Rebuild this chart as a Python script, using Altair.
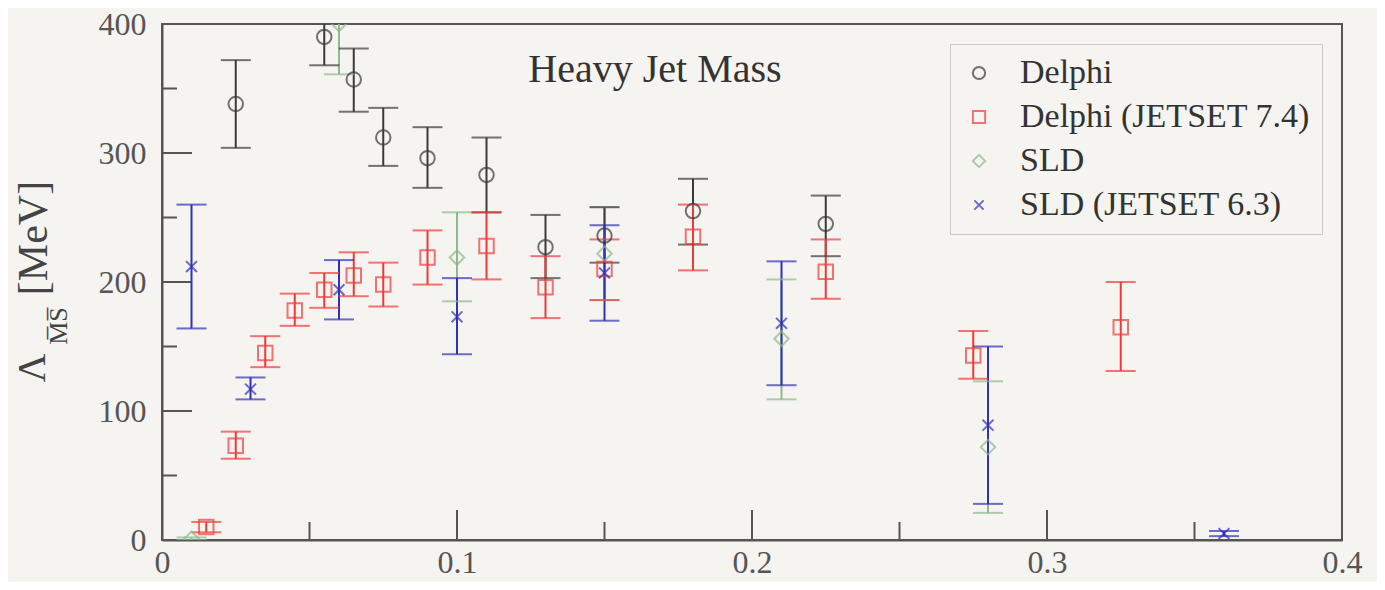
import altair as alt
import pandas as pd

# ---------------- data ----------------
series_names = ["Delphi", "Delphi (JETSET 7.4)", "SLD", "SLD (JETSET 6.3)"]
series_colors = ["#3a3a3a", "#f03a3a", "#8cba8c", "#3030b8"]
series_shapes = ["circle", "square", "diamond", "M-0.75,-0.75L0.75,0.75M0.75,-0.75L-0.75,0.75"]

delphi_x = [0.025, 0.055, 0.065, 0.075, 0.09, 0.11, 0.13, 0.15, 0.18, 0.225]
delphi_y = [338, 390, 357, 312, 296, 283, 227, 236, 255, 245]
delphi_lo = [304, 368, 332, 290, 273, 254, 203, 215, 229, 220]
delphi_hi = [372, 414, 381, 335, 320, 312, 252, 258, 280, 267]

dj74_x = [0.015, 0.025, 0.035, 0.045, 0.055, 0.065, 0.075, 0.09, 0.11, 0.13, 0.15, 0.18, 0.225, 0.275, 0.325]
dj74_y = [10, 73, 145, 178, 194, 205, 198, 219, 228, 196, 210, 235, 208, 143, 165]
dj74_lo = [6, 63, 134, 166, 180, 189, 181, 198, 202, 172, 186, 209, 187, 125, 131]
dj74_hi = [14, 84, 158, 191, 207, 223, 215, 240, 254, 220, 233, 260, 233, 162, 200]

sld_x = [0.01, 0.06, 0.10, 0.15, 0.21, 0.28]
sld_y = [1, 400, 219, 222, 156, 72]
sld_lo = [0, 361, 185, 186, 109, 21]
sld_hi = [2, 438, 254, 258, 202, 123]

sj63_x = [0.01, 0.03, 0.06, 0.10, 0.15, 0.21, 0.28, 0.36]
sj63_y = [212, 117, 194, 173, 207, 168, 89, 5]
sj63_lo = [164, 109, 171, 144, 170, 120, 28, 3]
sj63_hi = [260, 126, 217, 203, 244, 216, 150, 7]

x_tick_labels = [0, 0.1, 0.2, 0.3, 0.4]
y_tick_labels = [0, 100, 200, 300, 400]
x_major_inner = [0.1, 0.2, 0.3]
x_minor_inner = [0.05, 0.15, 0.25, 0.35]
y_major_inner = [100, 200, 300]
y_minor_inner = [50, 150, 250, 350]

# ---------------- build table ----------------
color_of = dict(zip(series_names, series_colors))
rows = []
for name, xs, ys, los, his in [
    ("SLD", sld_x, sld_y, sld_lo, sld_hi),
    ("Delphi", delphi_x, delphi_y, delphi_lo, delphi_hi),
    ("Delphi (JETSET 7.4)", dj74_x, dj74_y, dj74_lo, dj74_hi),
    ("SLD (JETSET 6.3)", sj63_x, sj63_y, sj63_lo, sj63_hi),
]:
    for x, y, lo, hi in zip(xs, ys, los, his):
        rows.append({"series": name, "col": color_of[name], "x": x, "y": y, "lo": lo, "hi": hi})
df = pd.DataFrame(rows)

W, H = 1180, 516
FONT = "Liberation Serif"
BG = "#f6f4f0"
AX = "#555555"

xscale = alt.Scale(domain=[0, 0.4], nice=False, zero=False)
yscale = alt.Scale(domain=[0, 400], nice=False)
cscale = alt.Scale(domain=series_names, range=series_colors)
sscale = alt.Scale(domain=series_names, range=series_shapes)

xenc = alt.X("x:Q", scale=xscale, axis=alt.Axis(
    values=x_tick_labels, title=None, ticks=False, grid=False,
    labelExpr="datum.value == 0 ? '0' : format(datum.value, '.1f')",
    labelFont=FONT, labelFontSize=32, labelColor=AX, labelPadding=7,
    labelFlush=False, domainColor=AX, domainWidth=2))
yenc = alt.Y("y:Q", scale=yscale, axis=alt.Axis(
    values=y_tick_labels, title=None, ticks=False, grid=False,
    labelFont=FONT, labelFontSize=32, labelColor=AX, labelPadding=16,
    labelFlush=False, domainColor=AX, domainWidth=2))

base = alt.Chart(df)
bar_color = alt.Color("col:N", scale=None)

bars = base.mark_rule(strokeWidth=2, clip=True).encode(
    x=alt.X("x:Q", scale=xscale), y=alt.Y("lo:Q", scale=yscale), y2="hi:Q",
    color=bar_color)
cap_lo = base.mark_tick(orient="horizontal", size=30, thickness=2, clip=True).encode(
    x=alt.X("x:Q", scale=xscale), y=alt.Y("lo:Q", scale=yscale), color=bar_color)
cap_hi = base.mark_tick(orient="horizontal", size=30, thickness=2, clip=True).encode(
    x=alt.X("x:Q", scale=xscale), y=alt.Y("hi:Q", scale=yscale), color=bar_color)

legend = alt.Legend(
    title=None, orient="top-right", offset=20, direction="vertical",
    fillColor=BG, strokeColor="#c8c8c8", padding=12,
    labelFont=FONT, labelFontSize=34, labelColor="#333333", labelOffset=24,
    labelLimit=600, symbolSize=150, symbolStrokeWidth=2, rowPadding=10)

points = base.mark_point(filled=False, size=210, strokeWidth=2, clip=True).encode(
    x=xenc, y=yenc,
    color=alt.Color("series:N", scale=cscale, legend=legend),
    shape=alt.Shape("series:N", scale=sscale, legend=legend))

# inward ticks
xt_major = alt.Chart(pd.DataFrame({"v": x_major_inner})).mark_rule(color=AX, strokeWidth=2).encode(
    x=alt.X("v:Q", scale=xscale), y=alt.value(H), y2=alt.value(H - 30))
xt_minor = alt.Chart(pd.DataFrame({"v": x_minor_inner})).mark_rule(color=AX, strokeWidth=2).encode(
    x=alt.X("v:Q", scale=xscale), y=alt.value(H), y2=alt.value(H - 18))
yt_major = alt.Chart(pd.DataFrame({"v": y_major_inner})).mark_rule(color=AX, strokeWidth=2).encode(
    y=alt.Y("v:Q", scale=yscale), x=alt.value(0), x2=alt.value(30))
yt_minor = alt.Chart(pd.DataFrame({"v": y_minor_inner})).mark_rule(color=AX, strokeWidth=2).encode(
    y=alt.Y("v:Q", scale=yscale), x=alt.value(0), x2=alt.value(15))

# texts
one = pd.DataFrame({"k": [0]})
title_txt = alt.Chart(one).mark_text(text="Heavy Jet Mass", font=FONT, fontSize=40, color="#333333",
                                     align="center", baseline="middle").encode(
    x=alt.value(493), y=alt.value(46))
lam_txt = alt.Chart(one).mark_text(text="Λ", font=FONT, fontSize=40, color="#444444", angle=270,
                                   align="center", baseline="middle").encode(
    x=alt.value(-129), y=alt.value(344))
ms_txt = alt.Chart(one).mark_text(text="M\u0305S\u0305", font=FONT, fontSize=26, color="#444444", angle=270,
                                  align="center", baseline="middle").encode(
    x=alt.value(-103), y=alt.value(302))
mev_txt = alt.Chart(one).mark_text(text="[MeV]", font=FONT, fontSize=42, color="#444444", angle=270,
                                   align="center", baseline="middle").encode(
    x=alt.value(-128), y=alt.value(214))

chart = alt.layer(
    xt_major, xt_minor, yt_major, yt_minor,
    bars, cap_lo, cap_hi, points,
    title_txt, lam_txt, ms_txt, mev_txt,
).properties(
    width=W, height=H,
    autosize=alt.AutoSizeParams(type="none"),
    padding={"left": 154, "top": 16, "right": 35, "bottom": 42},
    background=BG,
).configure_view(stroke=AX, strokeWidth=2, fill=BG)

chart.save("out.html", embed_options={"renderer": "svg", "actions": False})
